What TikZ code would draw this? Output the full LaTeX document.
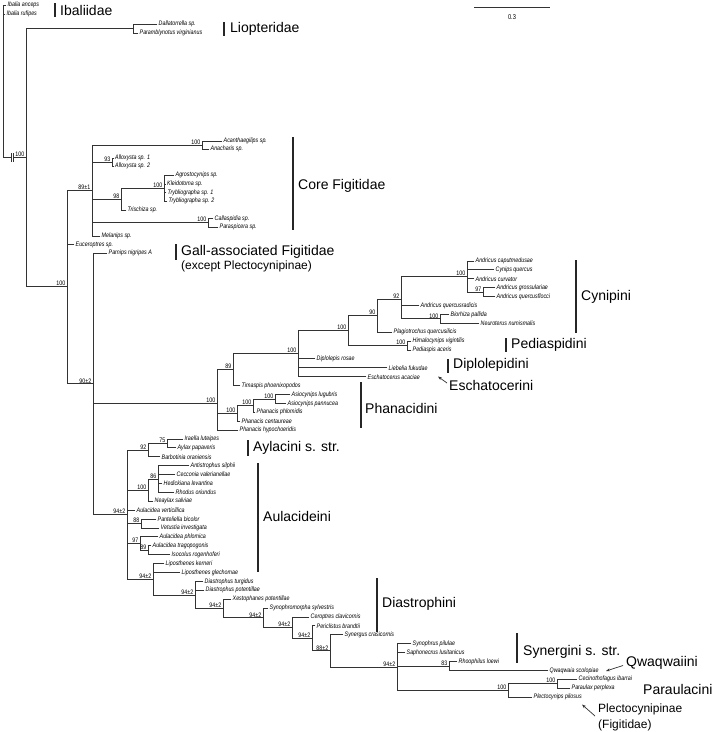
\documentclass[tikz,border=0pt]{standalone}
\usepackage{fontspec}
\setmainfont{Liberation Sans}
\newfontfamily\tx[FakeStretch=0.82]{Liberation Sans}
\usetikzlibrary{arrows.meta}
\newcommand\TreeTip[5]{\coordinate (#1-s) at (#2,#3); \node[tax] (#1) at (#4,#3) {#5}; \draw[br] (#1-s) -- (#1.west);}
\newcommand\TreeNode[7]{\coordinate (#1-t) at (#3,#4); \coordinate (#1-b) at (#3,#5); \coordinate (#1) at (#3,#6); \coordinate (#1-s) at (#2,#6);
 \draw[br] (#1-t) -- (#1-b); \draw[br] (#1-s) -- (#1); \node[sup] (#1-l) at (#1) {#7};}
\newcommand\CladeBar[4]{\coordinate (#1-t) at (#2,#3); \coordinate (#1-b) at (#2,#4); \draw[bar] (#1-t) -- (#1-b);}
\begin{document}
\begin{tikzpicture}[x=1pt,y=-1pt,
 br/.style={draw=black!80,line width=0.9pt,line cap=rect},
 tax/.style={anchor=west,inner xsep=1.5pt,inner ysep=0pt,font=\tx\itshape\fontsize{6.5}{7}\selectfont},
 sup/.style={anchor=south east,inner xsep=1.5pt,inner ysep=0.6pt,font=\tx\fontsize{6.5}{7}\selectfont},
 bar/.style={draw=black!85,line width=1.6pt},
 clab/.style={anchor=west,inner sep=0pt,font=\fontsize{14}{16}\selectfont},
 slab/.style={anchor=west,inner sep=0pt,font=\fontsize{12}{14}\selectfont},
 arr/.style={draw=black!80,line width=0.7pt,-{Stealth[length=4pt,width=3pt]}}]
\useasboundingbox[fill=white] (0,0) rectangle (723,732);

% outgroup and root
\coordinate (rt) at (3,5); \coordinate (rb) at (3,157.7);
\draw[br] (rt) -- (rb);
\TreeTip{ibA}{3}{5}{6}{Ibalia anceps}
\TreeTip{ibR}{3}{14}{5}{Ibalia rufipes}
\coordinate (N1-t) at (26,28.5); \coordinate (N1-b) at (26,286.8); \coordinate (N1) at (26,157.7);
\draw[br] (N1-t) -- (N1-b);
\coordinate (brA) at (11.5,157.7); \coordinate (brB) at (13.5,157.7);
\draw[br] (rb) -- (brA); \draw[br] (brB) -- (N1);
\coordinate (brA1) at (11.5,153.2); \coordinate (brA2) at (11.5,162.2);
\coordinate (brB1) at (13.5,153.2); \coordinate (brB2) at (13.5,162.2);
\draw[br,line cap=butt] (brA1) -- (brA2); \draw[br,line cap=butt] (brB1) -- (brB2);
\node[sup] (N1-l) at (N1) {100};

% Liopteridae
\TreeNode{Li}{26}{133}{24}{33}{28.5}{}
\TreeTip{Dal}{133}{24}{157}{Dallatorrella sp.}
\TreeTip{Par}{133}{33}{138}{Paramblynotus virginianus}

% Figitidae + Cynipidae
\TreeNode{N2}{26}{67}{190}{383.9}{286.8}{100}
\TreeNode{CF}{67}{92}{145}{236}{190}{89±1}
\TreeNode{Ac}{92}{202}{141}{149}{145}{100}
\TreeTip{Acan}{202}{141}{222}{Acanthaegilips sp.}
\TreeTip{Anac}{202}{149}{209}{Anacharis sp.}
\TreeNode{Al}{92}{112}{158}{166}{162}{93}
\TreeTip{Alo1}{112}{158}{113.5}{Alloxysta sp. 1}
\TreeTip{Alo2}{112}{166}{113.5}{Alloxysta sp. 2}
\TreeNode{Ne}{92}{121}{188}{210}{199}{98}
\TreeNode{Eu}{121}{164}{175}{201}{188}{100}
\TreeTip{Agr}{164}{175}{174}{Agrostocynips sp.}
\TreeTip{Kle}{164}{184}{165.5}{Kleidotoma sp.}
\TreeTip{Try1}{164}{192.5}{166}{Trybliographa sp. 1}
\TreeTip{Try2}{164}{201}{167}{Trybliographa sp. 2}
\TreeTip{Tri}{121}{210}{126}{Trischiza sp.}
\TreeNode{Ca}{92}{208}{218.5}{227}{222.7}{100}
\TreeTip{Cal}{208}{218.5}{213}{Callaspidia sp.}
\TreeTip{Psp}{208}{227}{218}{Paraspicera sp.}
\TreeTip{Mel}{92}{236}{100}{Melanips sp.}
\TreeTip{Euc}{67}{244.7}{74}{Euceroptres sp.}

\TreeNode{N3}{67}{93}{253}{514.7}{383.9}{90±2}
\TreeTip{Pam}{93}{253}{107}{Parnips nigripes A}

% Cynipini etc.
\TreeNode{NA}{93}{217}{369}{430.1}{403}{100}
\TreeNode{Nn}{217}{233}{353.8}{385.6}{369}{89}
\TreeNode{Nh}{233}{298}{330.5}{376.7}{353.8}{100}
\TreeNode{CP}{298}{348}{315.5}{345.5}{330.5}{100}
\TreeNode{Nni}{348}{377}{299.4}{332.2}{315.5}{90}
\TreeNode{Nnt}{377}{401}{276.6}{318.9}{299.4}{92}
\TreeNode{Cy}{401}{467}{261}{292.2}{276.6}{100}
\TreeTip{Acap}{467}{261}{474}{Andricus caputmedusae}
\TreeTip{Cyq}{467}{269.9}{494}{Cynips quercus}
\TreeTip{Acur}{467}{278.8}{474}{Andricus curvator}
\TreeNode{Nns}{467}{483}{287.7}{296.6}{292.2}{97}
\TreeTip{Agro}{483}{287.7}{495}{Andricus grossulariae}
\TreeTip{Aqf}{483}{296.6}{495}{Andricus quercusflocci}
\TreeTip{Aqr}{401}{305.5}{419}{Andricus quercusradicis}
\TreeNode{Bi}{401}{440}{314.4}{323.3}{318.9}{100}
\TreeTip{Bio}{440}{314.4}{449}{Biorhiza pallida}
\TreeTip{Neu}{440}{323.3}{479}{Neuroterus numismalis}
\TreeTip{Pla}{377}{332.2}{392}{Plagiotrochus quercusilicis}
\TreeNode{Pd}{348}{407}{341.1}{350}{345.5}{100}
\TreeTip{Him}{407}{341.1}{411}{Himalocynips vigintilis}
\TreeTip{Ped}{407}{350}{411}{Pediaspis aceris}
\TreeTip{Dip}{298}{358.9}{315}{Diplolepis rosae}
\TreeTip{Lie}{298}{367.8}{387}{Liebelia fukudae}
\TreeTip{Esc}{298}{376.7}{366}{Eschatocerus acaciae}
\TreeTip{Tim}{233}{385.6}{240}{Timaspis phoenixopodos}
\TreeNode{PhB}{217}{237}{405.6}{421.2}{413.4}{100}
\TreeNode{PhC}{237}{253}{399}{412.3}{405.6}{100}
\TreeNode{PhD}{253}{275}{394.5}{403.4}{399}{100}
\TreeTip{Asl}{275}{394.5}{290}{Asiocynips lugubris}
\TreeTip{Asp}{275}{403.4}{286}{Asiocynips pannucea}
\TreeTip{Php}{253}{412.3}{255}{Phanacis phlomidis}
\TreeTip{Phc}{237}{421.2}{240}{Phanacis centaureae}
\TreeTip{Phh}{217}{430.1}{238}{Phanacis hypochoeridis}

% lower clade
\TreeNode{L0}{93}{127}{450}{579.3}{514.7}{94±2}
\TreeNode{Ay}{127}{148}{443.5}{456.8}{450}{92}
\TreeNode{Nsf}{148}{167}{439}{447.9}{443.5}{75}
\TreeTip{Ira}{167}{439}{183}{Iraella luteipes}
\TreeTip{Ayl}{167}{447.9}{176}{Aylax papaveris}
\TreeTip{Bar}{148}{456.8}{160}{Barbotinia oraniensis}
\TreeNode{Nc}{127}{148}{479}{501.3}{490.2}{100}
\TreeNode{Nes}{148}{158}{465.7}{492.4}{479}{86}
\TreeTip{Ant}{158}{465.7}{189}{Antistrophus silphii}
\TreeTip{Cec}{158}{474.6}{175}{Cecconia valerianellae}
\TreeTip{Hed}{158}{483.5}{162}{Hedickiana levantina}
\TreeTip{Rhd}{158}{492.4}{174}{Rhodus oriundus}
\TreeTip{Nea}{148}{501.3}{153}{Neaylax salviae}
\TreeTip{Aver}{127}{510.2}{135}{Aulacidea verticillica}
\TreeNode{Nee}{127}{141}{519.1}{528}{523.5}{88}
\TreeTip{Pan}{141}{519.1}{156}{Panteliella bicolor}
\TreeTip{Vet}{141}{528}{159}{Vetustia investigata}
\TreeNode{Nnsb}{127}{140}{536.9}{550.3}{543.6}{97}
\TreeTip{Aph}{140}{536.9}{158}{Aulacidea phlomica}
\TreeNode{Nnb}{140}{148}{545.8}{554.7}{550.3}{89}
\TreeTip{Atr}{148}{545.8}{151}{Aulacidea tragopogonis}
\TreeTip{Iso}{148}{554.7}{170}{Isocolus rogenhoferi}
\TreeNode{L1}{127}{153}{563.6}{595}{579.3}{94±2}
\TreeTip{Lk}{153}{563.6}{164}{Liposthenes kerneri}
\TreeTip{Lg}{153}{572.5}{180}{Liposthenes glechomae}
\TreeNode{L2}{153}{195}{581.4}{608.5}{595}{94±2}
\TreeTip{Dt}{195}{581.4}{203}{Diastrophus turgidus}
\TreeTip{Dp}{195}{590.3}{204}{Diastrophus potentillae}
\TreeNode{L3}{195}{223}{599.2}{617.9}{608.5}{94±2}
\TreeTip{Xe}{223}{599.2}{231}{Xestophanes potentillae}
\TreeNode{L4}{223}{263}{608.1}{627.7}{617.9}{94±2}
\TreeTip{Syl}{263}{608.1}{268}{Synophromorpha sylvestris}
\TreeNode{L5}{263}{292}{617}{638.4}{627.7}{94±2}
\TreeTip{Cer}{292}{617}{309}{Ceroptres clavicornis}
\TreeNode{L6}{292}{312}{625.9}{650.9}{638.4}{94±2}
\TreeTip{Per}{312}{625.9}{315}{Periclistus brandtii}
\TreeNode{L7}{312}{330}{634.8}{667}{650.9}{88±2}
\TreeTip{Syc}{330}{634.8}{343}{Synergus crasicornis}
\TreeNode{Sg}{330}{397}{643.7}{690.4}{667}{94±2}
\TreeTip{Spp}{397}{643.7}{411}{Synophrus pilulae}
\TreeTip{Sal}{397}{652.6}{405}{Saphonecrus lusitanicus}
\TreeNode{Ret}{397}{449}{661.5}{670.4}{666}{83}
\TreeTip{Rlo}{449}{661.5}{457}{Rhoophilus loewi}
\TreeTip{Qws}{449}{670.4}{548}{Qwaqwaia scolopiae}
\TreeNode{Pu}{397}{508}{683.8}{697.1}{690.4}{100}
\TreeNode{Pu2}{508}{557}{679.3}{688.2}{683.8}{100}
\TreeTip{Cib}{557}{679.3}{577}{Cecinothofagus ibarrai}
\TreeTip{Ppx}{557}{688.2}{570}{Paraulax perplexa}
\TreeTip{Ple}{508}{697.1}{532}{Plectocynips pilosus}

% clade bars and labels
\CladeBar{bIb}{55}{3}{17} \node[clab] (lIb) at (60,10) {Ibaliidae};
\CladeBar{bLi}{224}{22}{36} \node[clab] (lLi) at (230,29) {Liopteridae};
\CladeBar{bCF}{293}{137}{230} \node[clab] (lCF) at (298,186) {Core Figitidae};
\CladeBar{bGa}{176}{244}{260} \node[clab] (lGa) at (181,252) {Gall-associated Figitidae};
\node[slab] (lGa2) at (181,266) {(except Plectocynipinae)};
\CladeBar{bCy}{576}{260}{333} \node[clab] (lCy) at (581,297) {Cynipini};
\CladeBar{bPd}{506}{338}{352} \node[clab] (lPd) at (511,345) {Pediaspidini};
\CladeBar{bDi}{448}{359}{373} \node[clab] (lDi) at (453,365) {Diplolepidini};
\node[clab] (lEs) at (449,385) {Eschatocerini};
\coordinate (aEs1) at (447,383); \coordinate (aEs2) at (438,376.5);
\draw[arr] (aEs1) -- (aEs2);
\CladeBar{bPh}{361}{382}{428} \node[clab] (lPh) at (365,408) {Phanacidini};
\CladeBar{bAy}{248}{440}{456} \node[clab] (lAy) at (253,448) {Aylacini s. str.};
\CladeBar{bAu}{258}{463}{572} \node[clab] (lAu) at (263,516) {Aulacideini};
\CladeBar{bDs}{377}{578}{632} \node[clab] (lDs) at (382,604) {Diastrophini};
\CladeBar{bSy}{517}{633}{663} \node[clab] (lSy) at (523,652) {Synergini s. str.};
\node[clab] (lQw) at (626,663) {Qwaqwaiini};
\coordinate (aQ1) at (623,665.5); \coordinate (aQ2) at (606,671);
\draw[arr] (aQ1) -- (aQ2);
\node[clab] (lPa) at (643,689) {Paraulacini};
\node[slab] (lPl) at (598,709) {Plectocynipinae};
\node[slab] (lPl2) at (598,725) {(Figitidae)};
\coordinate (aP1) at (595,716); \coordinate (aP2) at (582,704.5);
\draw[arr] (aP1) -- (aP2);

% scale bar
\coordinate (sc1) at (474,7); \coordinate (sc2) at (550,7);
\draw[br,line cap=butt] (sc1) -- (sc2);
\node[font=\tx\fontsize{7}{8}\selectfont,inner sep=0pt] (scl) at (512,17) {0.3};
\end{tikzpicture}
\end{document}
